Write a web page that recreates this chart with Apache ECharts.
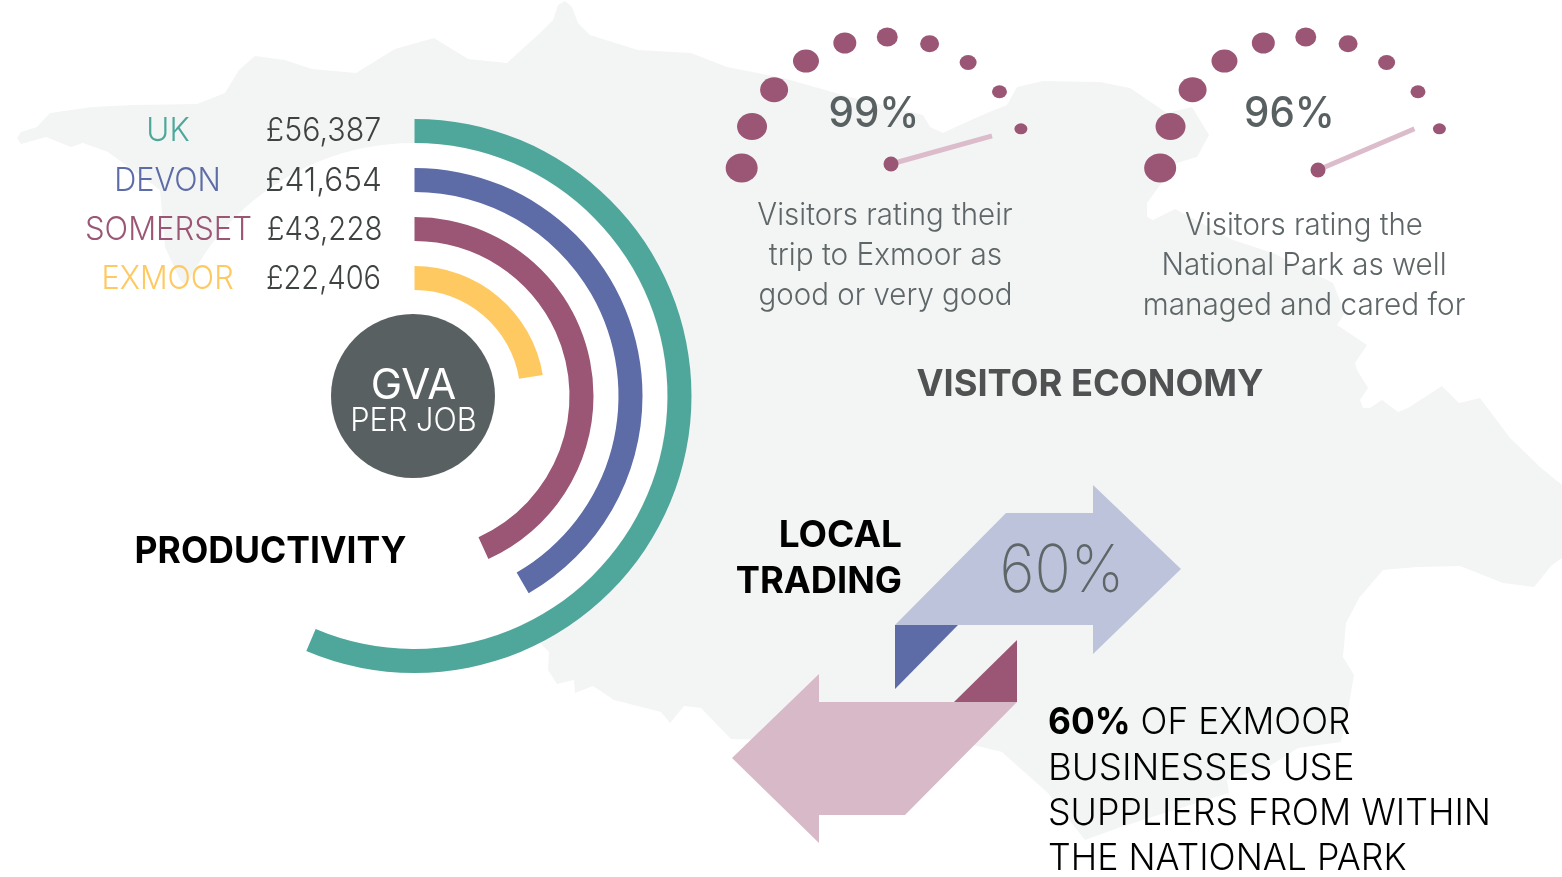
<!DOCTYPE html>
<html>
<head>
<meta charset="utf-8">
<title>Exmoor</title>
<script src="https://cdn.jsdelivr.net/npm/echarts@6/dist/echarts.min.js"></script>
<style>
    html, body { margin: 0; padding: 0; background: #fff; }
    #chart { width: 1562px; height: 877px; }
</style>
</head>
<body>
<div id="chart"></div>
<script>
// data
var regions = ['UK', 'DEVON', 'SOMERSET', 'EXMOOR'];
var gvaPerJob = [56387, 41654, 43228, 22406];
var gaugeDots = [0, 1, 2, 3, 4, 5, 6, 7, 8, 9];
var tripRating = 99;
var parkRating = 96;
var localTrading = 60;

var FONT = 'Inter, Roboto, "Liberation Sans", sans-serif';
var regionColors = ['#4fa79b', '#5d6ba7', '#9a5674', '#fec961'];
var MAUVE = '#9a5674';
var dotW = [32, 30, 28, 26, 23, 21, 19, 17, 15, 13];
var dotH = [29, 27, 25, 23, 21, 19, 17, 15, 13, 11];

// background silhouette, just decoration
var mapOutline = [[17,138],[21,132],[37,127],[50,113],[92,107],[133,105],[197,104],[225,93],[239,70],[255,56],[285,60],[312,69],[356,73],[395,49],[434,38],[468,59],[507,63],[540,33],[553,20],[558,5],[565,1],[572,7],[578,23],[590,35],[638,50],[691,53],[727,67],[783,78],[850,97],[923,115],[930,127],[943,133],[960,125],[987,113],[1007,105],[1017,87],[1043,81],[1100,82],[1130,88],[1167,113],[1192,107],[1209,135],[1197,157],[1177,163],[1155,192],[1147,203],[1147,217],[1153,220],[1175,209],[1233,240],[1273,253],[1333,283],[1345,313],[1337,325],[1367,345],[1355,363],[1357,370],[1368,388],[1360,400],[1363,408],[1370,408],[1382,400],[1398,412],[1408,408],[1442,386],[1459,403],[1480,398],[1510,438],[1540,467],[1562,485],[1562,558],[1552,565],[1534,587],[1503,583],[1460,566],[1417,567],[1383,570],[1359,598],[1346,623],[1343,657],[1354,675],[1348,710],[1341,742],[1298,748],[1268,767],[1227,780],[1229,793],[1152,817],[1118,828],[1085,840],[1048,793],[1002,752],[973,745],[731,739],[701,708],[684,706],[670,723],[661,712],[614,700],[593,686],[575,693],[574,680],[557,684],[548,670],[549,652],[180,280],[165,247],[160,190],[156,187],[108,152],[83,143],[71,147],[46,137],[21,144]];

function poly(points, color) {
    return { type: 'polygon', shape: { points: points }, style: { fill: color } };
}

function label(text, x, y, size, color, opts) {
    opts = opts || {};
    return {
        type: 'text',
        x: x,
        y: y + 2,
        scaleX: opts.sx || 1,
        style: {
            text: text,
            fill: color,
            font: (opts.weight || 300) + ' ' + size + 'px ' + FONT,
            textAlign: opts.align || 'center',
            textVerticalAlign: 'middle',
            rich: opts.rich
        }
    };
}

function money(v) {
    return '£' + v.toLocaleString('en-GB');
}

function gaugeDotSeries(polarIndex) {
    return {
        type: 'scatter',
        coordinateSystem: 'polar',
        polarIndex: polarIndex,
        clip: false,
        symbolSize: function (v, p) { return [dotW[p.dataIndex], dotH[p.dataIndex]]; },
        itemStyle: { color: MAUVE, opacity: 1 },
        data: gaugeDots.map(function (d) { return [1, d]; })
    };
}

function needleSeries(polarIndex, value) {
    return {
        type: 'line',
        coordinateSystem: 'polar',
        polarIndex: polarIndex,
        clip: false,
        lineStyle: { color: '#dcbccb', width: 5, cap: 'round' },
        itemStyle: { color: MAUVE },
        z: 3,
        data: [
            { value: [0, value], symbol: 'circle', symbolSize: 15 },
            { value: [1, value], symbol: 'none' }
        ]
    };
}

function hiddenRadius(polarIndex) {
    return { polarIndex: polarIndex, type: 'value', min: 0, max: 1, show: false };
}

function dotAngle(polarIndex, start) {
    return { polarIndex: polarIndex, type: 'value', min: 0, max: 360 / 17, startAngle: start, show: false };
}

function needleAngle(polarIndex) {
    return { polarIndex: polarIndex, type: 'value', min: 0, max: 360 / 2.53, startAngle: 266, show: false };
}

var chart = echarts.init(document.getElementById('chart'));

var option = {
    animation: false,
    backgroundColor: '#fff',
    polar: [
        { center: [414.5, 396], radius: [93.5, 289.5] },
        { center: [886, 182], radius: [0, 145] },
        { center: [1304.5, 182], radius: [0, 145] },
        { center: [891, 164], radius: [0, 105] },
        { center: [1318, 170], radius: [0, 105] }
    ],
    angleAxis: [
        { polarIndex: 0, type: 'value', min: 0, max: 100000, startAngle: 90, show: false },
        dotAngle(1, 174.5),
        dotAngle(2, 174.5),
        needleAngle(3),
        needleAngle(4)
    ],
    radiusAxis: [
        { polarIndex: 0, type: 'category', data: regions, inverse: true, show: false },
        hiddenRadius(1),
        hiddenRadius(2),
        hiddenRadius(3),
        hiddenRadius(4)
    ],
    graphic: {
        elements: [
            poly(mapOutline, '#f3f5f4'),
            { type: 'circle', shape: { cx: 414, cy: 396, r: 253 }, style: { fill: '#fff' } },
            { type: 'circle', shape: { cx: 413, cy: 396, r: 82 }, style: { fill: '#596061' } },
            // trading arrows
            poly([[895,625],[1006,513],[1093,513],[1093,485],[1181,569],[1093,654],[1093,625]], '#bec3dc'),
            poly([[895,625],[958,625],[895,689]], '#5d6ba7'),
            poly([[732,758],[819,674],[819,702],[1017,702],[905,815],[819,815],[819,843]], '#d8b9c8'),
            poly([[1017,640],[1017,702],[954,702]], MAUVE),
            // productivity
            label(regions[0], 168, 129, 33, regionColors[0], { sx: 0.95 }),
            label(regions[1], 167.5, 179, 33, regionColors[1], { sx: 0.93 }),
            label(regions[2], 168.5, 228, 33, regionColors[2], { sx: 0.94 }),
            label(regions[3], 167.5, 277, 33, regionColors[3], { sx: 0.93 }),
            label(money(gvaPerJob[0]), 323.5, 129, 33, '#3f4242', { sx: 0.92 }),
            label(money(gvaPerJob[1]), 323.5, 179, 33, '#3f4242', { sx: 0.955 }),
            label(money(gvaPerJob[2]), 324.5, 228, 33, '#3f4242', { sx: 0.89 }),
            label(money(gvaPerJob[3]), 323.5, 277, 33, '#3f4242', { sx: 0.88 }),
            label('GVA', 413.5, 384, 42, '#fff', { weight: 400 }),
            label('PER JOB', 413.5, 419, 32, '#fff', { sx: 0.96 }),
            label('PRODUCTIVITY', 270.5, 550, 37, '#000', { weight: 700, sx: 0.96 }),
            // visitor economy
            label(tripRating + '%', 874, 112, 42, '#596061', { weight: 500, sx: 0.96 }),
            label('Visitors rating their', 885, 214, 31, '#5f6668', { sx: 0.95 }),
            label('trip to Exmoor as', 885.5, 254, 31, '#5f6668', { sx: 0.96 }),
            label('good or very good', 885.5, 294, 31, '#5f6668', { sx: 0.95 }),
            label(parkRating + '%', 1289.5, 112, 42, '#596061', { weight: 500, sx: 0.96 }),
            label('Visitors rating the', 1304, 224, 31, '#5f6668', { sx: 0.95 }),
            label('National Park as well', 1304, 264, 31, '#5f6668', { sx: 0.955 }),
            label('managed and cared for', 1304, 304, 31, '#5f6668', { sx: 0.96 }),
            label('VISITOR ECONOMY', 1090, 383, 37, '#4f5152', { weight: 700, sx: 0.98 }),
            // local trading
            label('LOCAL', 902, 534, 37, '#000', { weight: 700, align: 'right' }),
            label('TRADING', 902, 580, 37, '#000', { weight: 700, align: 'right', sx: 0.98 }),
            label(localTrading + '%', 1062, 570, 66, '#5f6668', { weight: 200, sx: 0.91 }),
            label('{b|' + localTrading + '%} OF EXMOOR', 1048, 721, 37, '#000', {
                align: 'left',
                sx: 0.955,
                rich: { b: { font: '700 37px ' + FONT, fill: '#000' } }
            }),
            label('BUSINESSES USE', 1048, 767, 37, '#000', { align: 'left', sx: 0.99 }),
            label('SUPPLIERS FROM WITHIN', 1048, 812, 37, '#000', { align: 'left', sx: 0.967 }),
            label('THE NATIONAL PARK', 1048, 857, 37, '#000', { align: 'left', sx: 0.965 })
        ]
    },
    series: [
        {
            type: 'bar',
            coordinateSystem: 'polar',
            polarIndex: 0,
            barWidth: 24,
            z: 3,
            data: gvaPerJob.map(function (v, i) {
                return { value: v, itemStyle: { color: regionColors[i] } };
            })
        },
        gaugeDotSeries(1),
        gaugeDotSeries(2),
        needleSeries(3, tripRating),
        needleSeries(4, parkRating)
    ]
};

chart.setOption(option);
</script>
</body>
</html>
